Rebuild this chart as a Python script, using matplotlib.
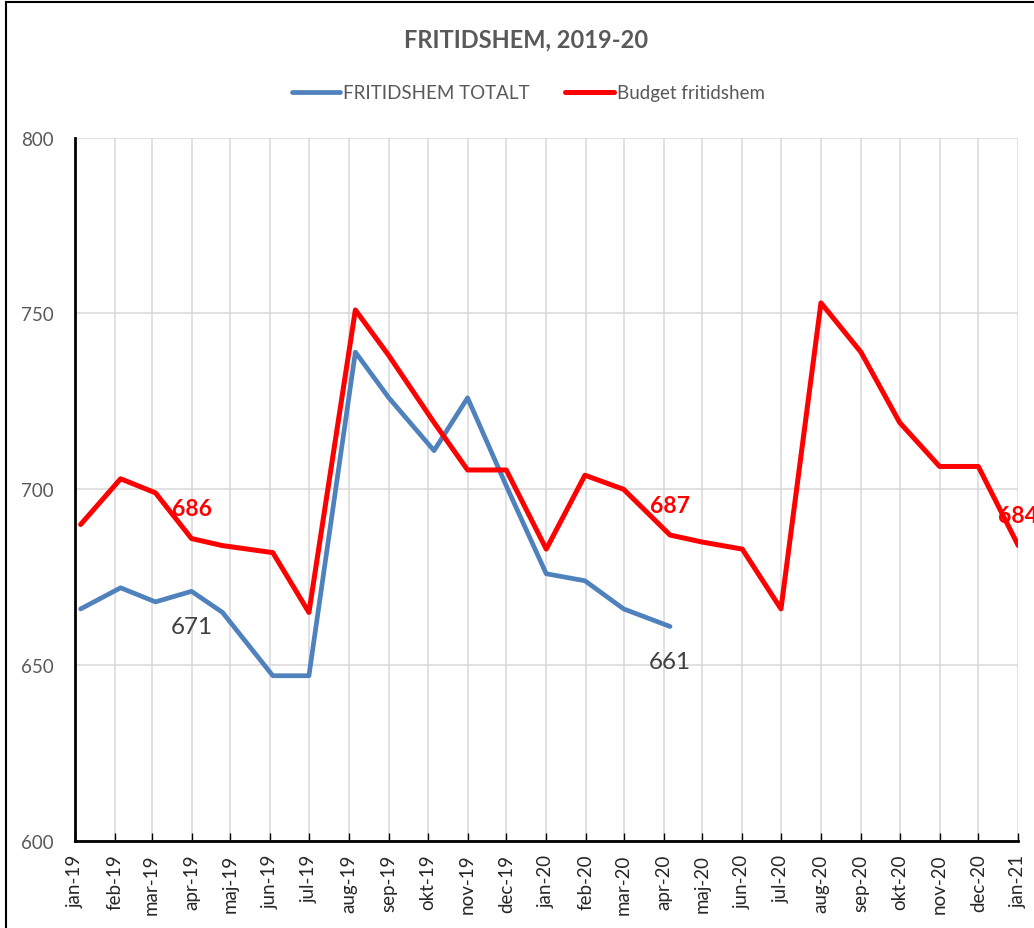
import matplotlib
matplotlib.use("Agg")
import matplotlib.pyplot as plt
import matplotlib.dates as mdates
from matplotlib.lines import Line2D
import datetime as dt

# month labels on the x axis (jan-19 .. jan-21)
month_labels = ["jan-19", "feb-19", "mar-19", "apr-19", "maj-19", "jun-19", "jul-19",
                "aug-19", "sep-19", "okt-19", "nov-19", "dec-19", "jan-20", "feb-20",
                "mar-20", "apr-20", "maj-20", "jun-20", "jul-20", "aug-20", "sep-20",
                "okt-20", "nov-20", "dec-20", "jan-21"]

# dates of the observations
obs_dates = ["2019-01-05", "2019-02-05", "2019-03-04", "2019-04-01", "2019-04-25",
             "2019-06-03", "2019-07-01", "2019-08-06", "2019-09-01", "2019-10-06",
             "2019-11-01", "2019-12-01", "2020-01-01", "2020-01-31", "2020-03-01",
             "2020-04-06", "2020-05-01", "2020-06-01", "2020-07-01", "2020-08-01",
             "2020-09-01", "2020-10-01", "2020-11-01", "2020-12-01", "2021-01-01"]

totalt = [666, 672, 668, 671, 665, 647, 647, 739, 726, 711, 726, 701,
          676, 674, 666, 661]
budget = [690, 703, 699, 686, 684, 682, 665, 751, 738, 719, 705.5, 705.5,
          683, 704, 700, 687, 685, 683, 666, 753, 739, 719, 706.5, 706.5, 684]

budget_labels = [3, 15, 24]
totalt_labels = [3, 15]

BLUE = "#4F81BD"
RED = "#FF0000"
GRAY = "#595959"

plt.rcParams['font.family'] = ['Lato', 'DejaVu Sans']

dates = [dt.datetime.strptime(d, "%Y-%m-%d") for d in obs_dates]
tick_dates = [dt.datetime(2019 + i // 12, i % 12 + 1, 1) for i in range(len(month_labels))]

fig = plt.figure(figsize=(10.34, 9.29), dpi=100)
ax = fig.add_axes([0.0730, 0.0936, 0.9118, 0.7572])

ax.plot(dates[:len(totalt)], totalt, color=BLUE, lw=3.4, solid_joinstyle='round',
        solid_capstyle='round', label="FRITIDSHEM TOTALT", zorder=3)
ax.plot(dates, budget, color=RED, lw=3.6, solid_joinstyle='round',
        solid_capstyle='round', label="Budget fritidshem", zorder=4)

for i in budget_labels:
    ax.annotate(f"{budget[i]:.0f}", (mdates.date2num(dates[i]), budget[i]),
                xytext=(0, 30), textcoords='offset pixels', ha='center', va='center',
                color=RED, fontsize=16.5, fontweight='bold', annotation_clip=False, zorder=5)
for i in totalt_labels:
    ax.annotate(f"{totalt[i]:.0f}", (mdates.date2num(dates[i]), totalt[i]),
                xytext=(0, -35), textcoords='offset pixels', ha='center', va='center',
                color="#404040", fontsize=17.5, annotation_clip=False, zorder=5)

ax.set_xlim(tick_dates[0], tick_dates[-1])
ax.set_ylim(600, 800)
ax.set_yticks([600, 650, 700, 750, 800])
ax.set_xticks(tick_dates)
ax.set_xticklabels(month_labels, rotation=90, fontsize=13.5, color="#262626")

ax.grid(True, color="#D9D9D9", lw=1.1, zorder=0)
ax.set_axisbelow(True)
for s in ["top", "right"]:
    ax.spines[s].set_visible(False)
for s in ["left", "bottom"]:
    ax.spines[s].set_linewidth(2)
    ax.spines[s].set_color("black")
ax.tick_params(axis='x', direction='in', length=6, width=1, pad=9)
ax.tick_params(axis='y', length=0, pad=16, labelsize=13.5, labelcolor=GRAY)

fig.text(0.509, 0.957, "FRITIDSHEM, 2019-20", ha='center', va='center',
         fontsize=17, fontweight='bold', color=GRAY)
fig.legend(loc='center', bbox_to_anchor=(0.511, 0.899), ncol=2, frameon=False,
           fontsize=13.5, labelcolor=GRAY, handlelength=2.6, handletextpad=0.15,
           columnspacing=1.9)

# outer chart border (left and top visible)
fig.add_artist(Line2D([5.5 / 1034, 5.5 / 1034], [0, 1 - 3.3 / 929], color="black",
                      lw=1.5, transform=fig.transFigure))
fig.add_artist(Line2D([5.5 / 1034, 1], [1 - 3.3 / 929, 1 - 3.3 / 929], color="black",
                      lw=1.5, transform=fig.transFigure))

fig.savefig("out.png", dpi=100)
